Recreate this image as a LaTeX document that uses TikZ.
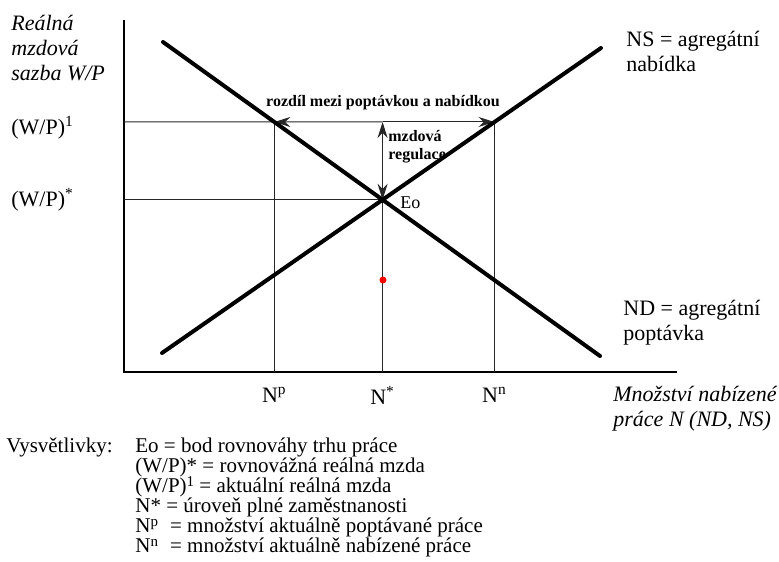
\documentclass[tikz,border=0pt]{standalone}
\usepackage{fontspec}
\setmainfont{Liberation Serif}
\usetikzlibrary{arrows.meta,positioning}
\newcommand\legsup[1]{\raisebox{0.55ex}{\fontsize{7.5}{7.5}\selectfont #1}}

\begin{document}
\begin{tikzpicture}[x=0.5pt,y=-0.5pt,>={Stealth[length=8pt,width=5pt]},
  curve/.style={line width=2pt,line cap=round},
  axis/.style={line width=1.2pt},
  guide/.style={line width=0.5pt,black!85},
  lbl/.style={font=\fontsize{11}{12.5}\selectfont,align=left,inner sep=0pt},
  ital/.style={lbl,font=\fontsize{11}{12.5}\selectfont\itshape},
  small/.style={font=\fontsize{8}{9}\selectfont\bfseries,align=left,inner sep=0pt},
  leg/.style={font=\fontsize{10.5}{10}\selectfont,align=left,inner sep=0pt}]
\useasboundingbox (0,0) rectangle (779,561);
% axes
\coordinate (O) at (124,372);
\coordinate (ytop) at (124,20);
\coordinate (xend) at (677,372);
\draw[axis] (ytop) -- (O) -- (xend);
% demand and supply
\coordinate (nd1) at (163,42);
\coordinate (nd2) at (600,356);
\coordinate (ns1) at (162,353);
\coordinate (ns2) at (601,48);
\coordinate (w1l) at (124,122);
\coordinate (w1r) at (700,122);
\coordinate (Eo) at (intersection of nd1--nd2 and ns1--ns2);
\coordinate (dem) at (intersection of nd1--nd2 and w1l--w1r);
\coordinate (sup) at (intersection of ns1--ns2 and w1l--w1r);
\coordinate (top) at (Eo |- w1l);
% guide lines
\draw[guide] (w1l) -- (dem);
\draw[guide] (dem) -- (dem |- O);
\draw[guide] (sup) -- (sup |- O);
\draw[guide] (Eo -| O) -- (Eo) -- (Eo |- O);
\draw[guide,->] (top) -- (dem);
\draw[guide,->] (top) -- (sup);
\draw[guide,<->] (top) -- (Eo);
\draw[curve] (nd1) -- (nd2);
\draw[curve] (ns1) -- (ns2);
\node[circle,fill=red,inner sep=0pt,minimum size=3.5pt] (dot) at (383,280) {};
% labels
\node[ital,anchor=north west] (ylab) at (11,15) {Reálná\\mzdová\\sazba W/P};
\node[lbl,anchor=west] (w1) at (11,128) {(W/P)\textsuperscript{1}};
\node[lbl,anchor=west] (wstar) at (11,200) {(W/P)\textsuperscript{*}};
\node[lbl,anchor=north west] (nslab) at (626,31) {NS = agregátní\\nabídka};
\node[lbl,anchor=north west] (ndlab) at (623,300) {ND = agregátní\\poptávka};
\node[small] (gap) at (383,103) {rozdíl mezi poptávkou a nabídkou};
\node[small,anchor=north west] (reg) at (388,130) {mzdová\\regulace};
\node[lbl,font=\fontsize{9}{10}\selectfont,anchor=west] (eolab) at (400,203) {Eo};
\node[lbl] (np) at (dem |- 0,395) {N\textsuperscript{p}};
\node[lbl] (nst) at (Eo |- 0,395) {N\textsuperscript{*}};
\node[lbl] (nn) at (sup |- 0,395) {N\textsuperscript{n}};
\node[ital,anchor=north west] (xlab) at (613,386) {Množství nabízené\\práce N (ND, NS)};
% legend
\node[leg,anchor=north west] (legkey) at (6,437) {Vysvětlivky:};
\node[leg,anchor=north west] (legtxt) at (135,437) {Eo = bod rovnováhy trhu práce\\
(W/P)* = rovnovážná reálná mzda\\
(W/P)\legsup{1} = aktuální reálná mzda\\
N* = úroveň plné zaměstnanosti\\
N\legsup{p}\hspace{6pt}= množství aktuálně poptávané práce\\
N\legsup{n}\hspace{6pt}= množství aktuálně nabízené práce};
\end{tikzpicture}
\end{document}
